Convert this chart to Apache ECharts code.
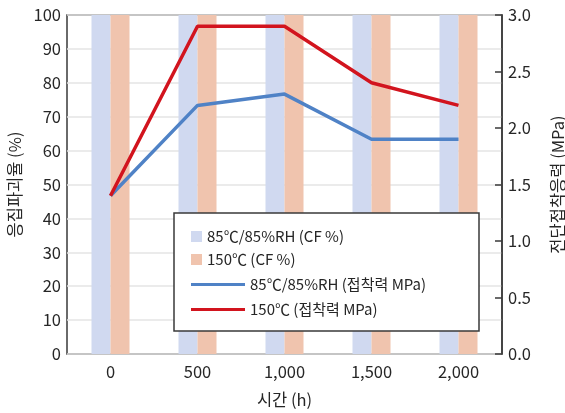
<!DOCTYPE html>
<html>
<head>
<meta charset="utf-8">
<script src="https://cdn.jsdelivr.net/npm/echarts@6/dist/echarts.min.js"></script>
<style>
  html, body { margin: 0; padding: 0; background: #fff; }
  #chart { width: 565px; height: 413px; }
</style>
</head>
<body>
<div id="chart"></div>
<script>
// Exposure time (h)
const hours = ['0', '500', '1,000', '1,500', '2,000'];
// Cohesive failure ratio (%)
const cfHumid = [100, 100, 100, 100, 100];
const cfHeat = [100, 100, 100, 100, 100];
// Shear adhesion strength (MPa)
const mpaHumid = [1.4, 2.2, 2.3, 1.9, 1.9];
const mpaHeat = [1.4, 2.9, 2.9, 2.4, 2.2];

const names = [
  '85℃/85%RH (CF %)',
  '150℃ (CF %)',
  '85℃/85%RH (접착력 MPa)',
  '150℃ (접착력 MPa)'
];

const FONT = '"Noto Sans CJK KR", "Noto Sans", sans-serif';
const TXT = '#262626';
const textStyle = { fontFamily: FONT, fontSize: 15, color: TXT };
const tickStyle = { fontFamily: FONT, fontSize: 16.5, color: TXT };

const chart = echarts.init(document.getElementById('chart'), null, { renderer: 'canvas' });

function legendItem(name, top, isLine) {
  return {
    data: [name],
    left: 191,
    top: top,
    padding: 0,
    orient: 'vertical',
    icon: 'rect',
    itemWidth: isLine ? 54 : 11,
    itemHeight: isLine ? 3 : 11,
    selectedMode: false,
    textStyle: textStyle,
    z: 60
  };
}

chart.setOption({
  animation: false,
  backgroundColor: '#ffffff',
  textStyle: { fontFamily: FONT },
  grid: {
    left: 67, right: 63, top: 15, bottom: 59,
    outerBoundsMode: 'none',
    containLabel: false,
    show: true, borderColor: '#3a3a3a', borderWidth: 1.5, backgroundColor: 'transparent'
  },
  graphic: [{
    type: 'rect',
    z: 50,
    shape: { x: 174, y: 213, width: 305, height: 118 },
    style: { fill: '#ffffff', stroke: '#3a3a3a', lineWidth: 1.5 }
  }],
  legend: [
    legendItem(names[0], 229, false),
    legendItem(names[1], 252, false),
    legendItem(names[2], 277, true),
    legendItem(names[3], 302, true)
  ],
  xAxis: {
    type: 'category',
    data: hours,
    axisLine: { show: false },
    axisTick: { show: false },
    axisLabel: { ...tickStyle, margin: 9 },
    name: '시간 (h)',
    nameLocation: 'middle',
    nameGap: 37,
    nameTextStyle: tickStyle
  },
  yAxis: [{
    type: 'value',
    min: 0, max: 100, interval: 10,
    axisLine: { show: false },
    axisTick: { show: false },
    axisLabel: { ...tickStyle, margin: 6 },
    splitLine: { show: true, lineStyle: { color: '#e4e4e4', width: 1.5 } },
    name: '응집파괴율 (%)',
    nameLocation: 'middle',
    nameGap: 37,
    nameTextStyle: tickStyle
  }, {
    type: 'value',
    position: 'right',
    min: 0, max: 3, interval: 0.5,
    axisLine: { show: true, lineStyle: { color: '#3a3a3a', width: 1.5 } },
    axisTick: { show: true, inside: true, length: 7, lineStyle: { color: '#3a3a3a', width: 1.5 } },
    axisLabel: { ...tickStyle, margin: 6, formatter: v => v.toFixed(1) },
    splitLine: { show: false },
    name: '전단접착응력 (MPa)',
    nameLocation: 'middle',
    nameRotate: 90,
    nameGap: 47,
    nameTextStyle: tickStyle
  }],
  series: [{
    name: names[0],
    type: 'bar',
    data: cfHumid,
    barWidth: 19,
    barGap: '0%',
    itemStyle: { color: '#d0d9f0' },
    z: 1
  }, {
    name: names[1],
    type: 'bar',
    data: cfHeat,
    barWidth: 19,
    barGap: '0%',
    itemStyle: { color: '#f0c4ae' },
    z: 1
  }, {
    name: names[2],
    type: 'line',
    yAxisIndex: 1,
    data: mpaHumid,
    symbol: 'none',
    lineStyle: { color: '#4f82c6', width: 3.5 },
    itemStyle: { color: '#4f82c6' },
    z: 3
  }, {
    name: names[3],
    type: 'line',
    yAxisIndex: 1,
    data: mpaHeat,
    symbol: 'none',
    lineStyle: { color: '#d2141e', width: 3.5 },
    itemStyle: { color: '#d2141e' },
    z: 4
  }]
});
</script>
</body>
</html>
